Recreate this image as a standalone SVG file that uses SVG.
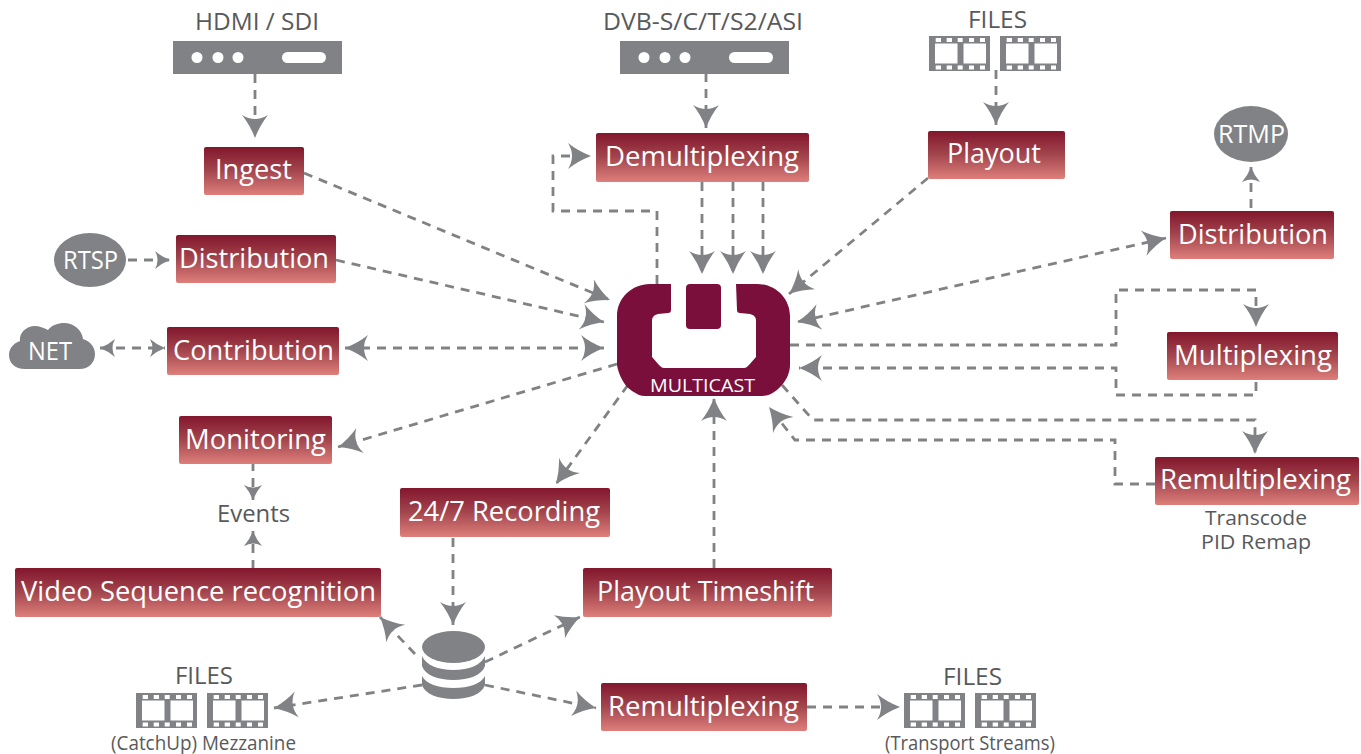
<svg xmlns="http://www.w3.org/2000/svg" width="1361" height="754" viewBox="0 0 1361 754">
<style>
.box{fill:url(#red)}
.t{font-family:"Open Sans","Noto Sans",sans-serif;font-size:28px;fill:#fff}
.g{font-family:"Open Sans","Noto Sans",sans-serif;font-size:23px;fill:#58595b}
.sm{font-size:20px}
.w{font-family:"Open Sans","Noto Sans",sans-serif;font-size:25px;fill:#fff}
.ic{fill:#808285}
.c path,.c line{fill:none;stroke:#808285;stroke-width:2.8;stroke-dasharray:9 7}
.a{marker-end:url(#ah)}
.b{marker-start:url(#as);marker-end:url(#ah)}
.s{marker-end:url(#sh)}
.sb{marker-start:url(#ss);marker-end:url(#sh)}
</style>
<defs>
<linearGradient id="red" x1="0" y1="0" x2="0" y2="1"><stop offset="0" stop-color="#82162d"/><stop offset="0.5" stop-color="#a4464e"/><stop offset="1" stop-color="#de7f7b"/></linearGradient>
<marker id="ah" markerUnits="userSpaceOnUse" markerWidth="26" markerHeight="28" refX="23" refY="13" orient="auto" viewBox="0 0 26 28"><path d="M23,13 Q10,8 0,0 Q8,13 0,26 Q10,18 23,13 Z" fill="#808285"/></marker>
<marker id="as" markerUnits="userSpaceOnUse" markerWidth="26" markerHeight="28" refX="0" refY="13" orient="auto" viewBox="0 0 26 28"><path d="M0,13 Q13,8 23,0 Q15,13 23,26 Q13,18 0,13 Z" fill="#808285"/></marker>
<marker id="sh" markerUnits="userSpaceOnUse" markerWidth="18" markerHeight="20" refX="15" refY="9" orient="auto" viewBox="0 0 18 20"><path d="M15,9 Q7,6 0,0 Q5,9 0,18 Q7,12 15,9 Z" fill="#808285"/></marker>
<marker id="ss" markerUnits="userSpaceOnUse" markerWidth="18" markerHeight="20" refX="0" refY="9" orient="auto" viewBox="0 0 18 20"><path d="M0,9 Q8,6 15,0 Q10,9 15,18 Q8,12 0,9 Z" fill="#808285"/></marker>
<g id="film">
<path fill-rule="evenodd" class="ic" d="M0,0H61V35H0Z M6,7.500V27.500H28.500V7.500Z M34.500,7.500V27.500H57V7.500Z M6.700,2V6H12V2Z M17.700,2V6H23V2Z M28.700,2V6H33.700V2Z M40,2V6H45V2Z M51,2V6H56V2Z M6.700,29.500V33.500H12V29.500Z M17.700,29.500V33.500H23V29.500Z M28.700,29.500V33.500H33.700V29.500Z M40,29.500V33.500H45V29.500Z M51,29.500V33.500H56V29.500Z"/>
</g>
<g id="dev">
<rect class="ic" width="169" height="33"/>
<circle cx="24" cy="16.500" r="5.500" fill="#fff"/><circle cx="45" cy="16.500" r="5.500" fill="#fff"/><circle cx="65" cy="16.500" r="5.500" fill="#fff"/>
<rect x="109" y="11" width="44" height="11" rx="5.500" fill="#fff"/>
</g>
</defs>
<rect width="1361" height="754" fill="#fff"/>
<g id="connectors" class="c">
<line class="a" x1="255" y1="74" x2="255" y2="138"/>
<line class="a" x1="304" y1="173" x2="610" y2="300"/>
<line class="a" x1="336" y1="260" x2="604" y2="322"/>
<line class="s" x1="128" y1="260" x2="170" y2="260"/>
<line class="sb" x1="100" y1="348" x2="165" y2="348"/>
<line class="b" x1="345" y1="348" x2="604" y2="348"/>
<line class="a" x1="617" y1="364" x2="338" y2="447"/>
<line class="a" x1="628" y1="385" x2="556" y2="484"/>
<line class="a" x1="714" y1="568" x2="714" y2="398"/>
<line class="a" x1="453" y1="538" x2="453" y2="625"/>
<line class="a" x1="415" y1="654" x2="380" y2="617"/>
<line class="a" x1="485" y1="662" x2="580" y2="617"/>
<line class="a" x1="422" y1="685" x2="274" y2="708"/>
<line class="a" x1="485" y1="685" x2="596" y2="708"/>
<line class="a" x1="807" y1="707" x2="900" y2="707"/>
<line class="s" x1="253" y1="462" x2="253" y2="500"/>
<line class="s" x1="253" y1="569" x2="253" y2="531"/>
<line class="a" x1="706" y1="73" x2="706" y2="128"/>
<line class="a" x1="702" y1="182" x2="702" y2="274"/>
<line class="a" x1="733" y1="182" x2="733" y2="274"/>
<line class="a" x1="763" y1="182" x2="763" y2="274"/>
<path class="a" d="M657,284V211H553V156H591"/>
<line class="a" x1="996" y1="70" x2="996" y2="125"/>
<line class="a" x1="928" y1="178" x2="789" y2="294"/>
<line class="b" x1="1166" y1="238" x2="797" y2="322"/>
<line class="s" x1="1251" y1="208" x2="1251" y2="167"/>
<path class="a" d="M790,345H1116V290H1256V327"/>
<path class="a" d="M1256,382V395H1116V368H799"/>
<path class="a" d="M782,385L813,420H1255V454"/>
<path class="a" d="M1155,484H1115V440H795L769,407"/>
</g>
<g id="logo">
<path fill="#7b0f3c" d="M671,284H650C632,284 617,298 617,316V365C618,372 622,381 627,387L632,391C637,394 640,396 645,396H762C768,396 773,393 777,390L782,385C787,379 790,372 790,365V316C790,298 775,284 757,284H736L737,310C737,312 738,313 740,313L750,314C754,315 756,317 756,321V357L749,365C747,367 746,368 744,368H664C662,368 661,367 659,365L652,357V321C652,317 654,315 658,314L668,313C670,313 671,312 671,310Z"/>
<rect x="686" y="284" width="35" height="45" rx="4" fill="#7b0f3c"/>
<text x="650" y="392" font-family="Open Sans,sans-serif" font-size="19" fill="#fff" textLength="105" lengthAdjust="spacingAndGlyphs">MULTICAST</text>
</g>
<g id="hdmi"><text class="g" x="195" y="30" textLength="124" lengthAdjust="spacingAndGlyphs">HDMI / SDI</text><use href="#dev" x="173" y="41"/></g>
<g id="dvb"><text class="g" x="603" y="30" textLength="200" lengthAdjust="spacingAndGlyphs">DVB-S/C/T/S2/ASI</text><use href="#dev" x="620" y="41"/></g>
<g id="files-top"><text class="g" x="968" y="28" textLength="59" lengthAdjust="spacingAndGlyphs">FILES</text><use href="#film" x="929" y="36"/><use href="#film" x="1000" y="36"/></g>
<g id="files-left"><text class="g" x="175" y="684" textLength="58" lengthAdjust="spacingAndGlyphs">FILES</text><use href="#film" x="136" y="693"/><use href="#film" x="207" y="693"/><text class="g sm" x="111" y="750" textLength="185" lengthAdjust="spacingAndGlyphs">(CatchUp) Mezzanine</text></g>
<g id="files-right"><text class="g" x="943" y="685" textLength="59" lengthAdjust="spacingAndGlyphs">FILES</text><use href="#film" x="904" y="693"/><use href="#film" x="975" y="693"/><text class="g sm" x="885" y="750" textLength="170" lengthAdjust="spacingAndGlyphs">(Transport Streams)</text></g>
<g id="rtsp"><ellipse class="ic" cx="90" cy="260" rx="36" ry="27"/><text class="w" x="63" y="269" textLength="55" lengthAdjust="spacingAndGlyphs">RTSP</text></g>
<g id="rtmp"><ellipse class="ic" cx="1251" cy="134" rx="37" ry="28"/><text class="w" x="1218" y="143" textLength="67" lengthAdjust="spacingAndGlyphs">RTMP</text></g>
<g id="net"><path class="ic" d="M25,369C15,369 9,363 9,355C9,348 14,343 20,341C19,333 26,326 35,326C39,326 44,328 48,330C52,325 58,323 64,323C74,323 82,330 83,339C90,341 95,347 95,354C95,363 88,369 80,369Z"/><text class="w" x="28" y="360" textLength="44" lengthAdjust="spacingAndGlyphs">NET</text></g>
<g id="events"><text class="g" x="217" y="522" textLength="73" lengthAdjust="spacingAndGlyphs">Events</text></g>
<g id="transcode"><text class="g sm" x="1205" y="525" textLength="102" lengthAdjust="spacingAndGlyphs">Transcode</text><text class="g sm" x="1201" y="549" textLength="110" lengthAdjust="spacingAndGlyphs">PID Remap</text></g>
<g id="db">
<ellipse class="ic" cx="453.500" cy="647" rx="31.500" ry="16"/>
<path class="ic" d="M422,656C426,665 438,670 453.500,670C469,670 481,665 485,656V666C482,675 469,680 453.500,680C438,680 425,675 422,666Z"/>
<path class="ic" d="M422,676C426,684 438,688 453.500,688C469,688 481,684 485,676V685C482,694 469,699 453.500,699C438,699 425,694 422,685Z"/>
</g>
<g id="ingest"><rect class="box" x="204" y="147" width="100" height="48" rx="2"/><text class="t" x="215" y="179" textLength="77" lengthAdjust="spacingAndGlyphs">Ingest</text></g>
<g id="distribution-l"><rect class="box" x="176" y="235" width="160" height="48" rx="2"/><text class="t" x="179" y="268" textLength="150" lengthAdjust="spacingAndGlyphs">Distribution</text></g>
<g id="contribution"><rect class="box" x="167" y="327" width="172" height="48" rx="2"/><text class="t" x="173" y="360" textLength="161" lengthAdjust="spacingAndGlyphs">Contribution</text></g>
<g id="monitoring"><rect class="box" x="179" y="416" width="153" height="48" rx="2"/><text class="t" x="185" y="449" textLength="141" lengthAdjust="spacingAndGlyphs">Monitoring</text></g>
<g id="demux"><rect class="box" x="596" y="133" width="213" height="49" rx="2"/><text class="t" x="605" y="166" textLength="194" lengthAdjust="spacingAndGlyphs">Demultiplexing</text></g>
<g id="playout"><rect class="box" x="928" y="131" width="137" height="48" rx="2"/><text class="t" x="947" y="163" textLength="94" lengthAdjust="spacingAndGlyphs">Playout</text></g>
<g id="distribution-r"><rect class="box" x="1170" y="211" width="164" height="48" rx="2"/><text class="t" x="1178" y="244" textLength="150" lengthAdjust="spacingAndGlyphs">Distribution</text></g>
<g id="mux"><rect class="box" x="1167" y="332" width="171" height="48" rx="2"/><text class="t" x="1174" y="365" textLength="158" lengthAdjust="spacingAndGlyphs">Multiplexing</text></g>
<g id="remux-r"><rect class="box" x="1155" y="457" width="204" height="48" rx="2"/><text class="t" x="1160" y="489" textLength="191" lengthAdjust="spacingAndGlyphs">Remultiplexing</text></g>
<g id="rec"><rect class="box" x="400" y="488" width="210" height="49" rx="2"/><text class="t" x="408" y="521" textLength="192" lengthAdjust="spacingAndGlyphs">24/7 Recording</text></g>
<g id="vseq"><rect class="box" x="15" y="568" width="366" height="49" rx="2"/><text class="t" x="21" y="601" textLength="355" lengthAdjust="spacingAndGlyphs">Video Sequence recognition</text></g>
<g id="timeshift"><rect class="box" x="583" y="568" width="249" height="49" rx="2"/><text class="t" x="597" y="601" textLength="217" lengthAdjust="spacingAndGlyphs">Playout Timeshift</text></g>
<g id="remux-b"><rect class="box" x="601" y="683" width="206" height="48" rx="2"/><text class="t" x="608" y="716" textLength="191" lengthAdjust="spacingAndGlyphs">Remultiplexing</text></g>
</svg>
